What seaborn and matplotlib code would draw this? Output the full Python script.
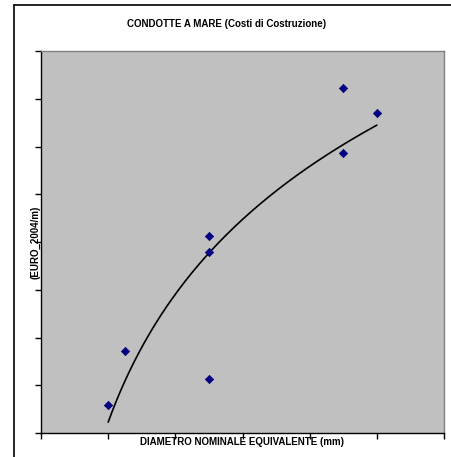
import numpy as np
import pandas as pd
import matplotlib
matplotlib.use("Agg")
import matplotlib.pyplot as plt
import seaborn as sns
from matplotlib.lines import Line2D

# Data (axes carry no numeric labels)
diametro = [200, 250, 500, 500, 500, 900, 900, 1000]
costo = [59, 172, 113, 379, 413, 723, 586, 670]
x_ticks = [0, 200, 400, 600, 800, 1000, 1200]
y_ticks = [0, 100, 200, 300, 400, 500, 600, 700, 800]

title = "CONDOTTE A MARE (Costi di Costruzione)"
xlabel = "DIAMETRO NOMINALE EQUIVALENTE (mm)"
ylabel = "(EURO_2004/m)"

df = pd.DataFrame({"d": diametro, "c": costo})

sns.set_style("white")
plt.rcParams["font.family"] = ["Liberation Sans", "DejaVu Sans"]
plt.rcParams["text.color"] = "black"

fig = plt.figure(figsize=(4.51, 4.57), dpi=100)
ax = fig.add_axes([41/451, (457-433)/457, (444-41)/451, (433-51)/457])
ax.set_facecolor("#c0c0c0")

# logarithmic trend line (Excel-style)
a, b = np.polyfit(np.log(df["d"]), df["c"], 1)
xs = np.linspace(min(diametro), max(diametro), 200)
trend = pd.DataFrame({"d": xs, "c": a*np.log(xs) + b})
sns.lineplot(data=trend, x="d", y="c", ax=ax, color="black", linewidth=1.2)

sns.scatterplot(data=df, x="d", y="c", ax=ax, marker="D", s=18,
                color="#000080", edgecolor="#000080", linewidth=0.5, zorder=3)

ax.set_xlim(x_ticks[0], x_ticks[-1])
ax.set_ylim(y_ticks[0], y_ticks[-1])
ax.set_xticks(x_ticks)
ax.set_yticks(y_ticks)
ax.set_xticklabels([])
ax.set_yticklabels([])
ax.tick_params(axis="both", direction="out", length=4, width=1, color="black",
               bottom=True, left=True)

for side in ["top", "right"]:
    ax.spines[side].set_color("#808080")
    ax.spines[side].set_linewidth(1)
for side in ["left", "bottom"]:
    ax.spines[side].set_color("black")
    ax.spines[side].set_linewidth(1)

ax.set_xlabel("")
ax.set_ylabel("")

fig.text(227/451, 1 - 24/457, title, ha="center", va="center",
         fontsize=7, fontweight="bold", color="black")
fig.text(242/451, 1 - 442/457, xlabel, ha="center", va="center",
         fontsize=7, fontweight="bold", color="black")
fig.text(35/451, 1 - 242/457, ylabel, ha="center", va="center",
         fontsize=7, fontweight="bold", rotation=90, color="black")

# chart area frame (only left and top edges visible)
fy = 1 - 5/457
fx = 14/451
fig.add_artist(Line2D([fx, fx], [0, fy], transform=fig.transFigure,
                      color="black", linewidth=1.2))
fig.add_artist(Line2D([fx, 1], [fy, fy], transform=fig.transFigure,
                      color="black", linewidth=1.2))

fig.savefig("out.png", dpi=100)
